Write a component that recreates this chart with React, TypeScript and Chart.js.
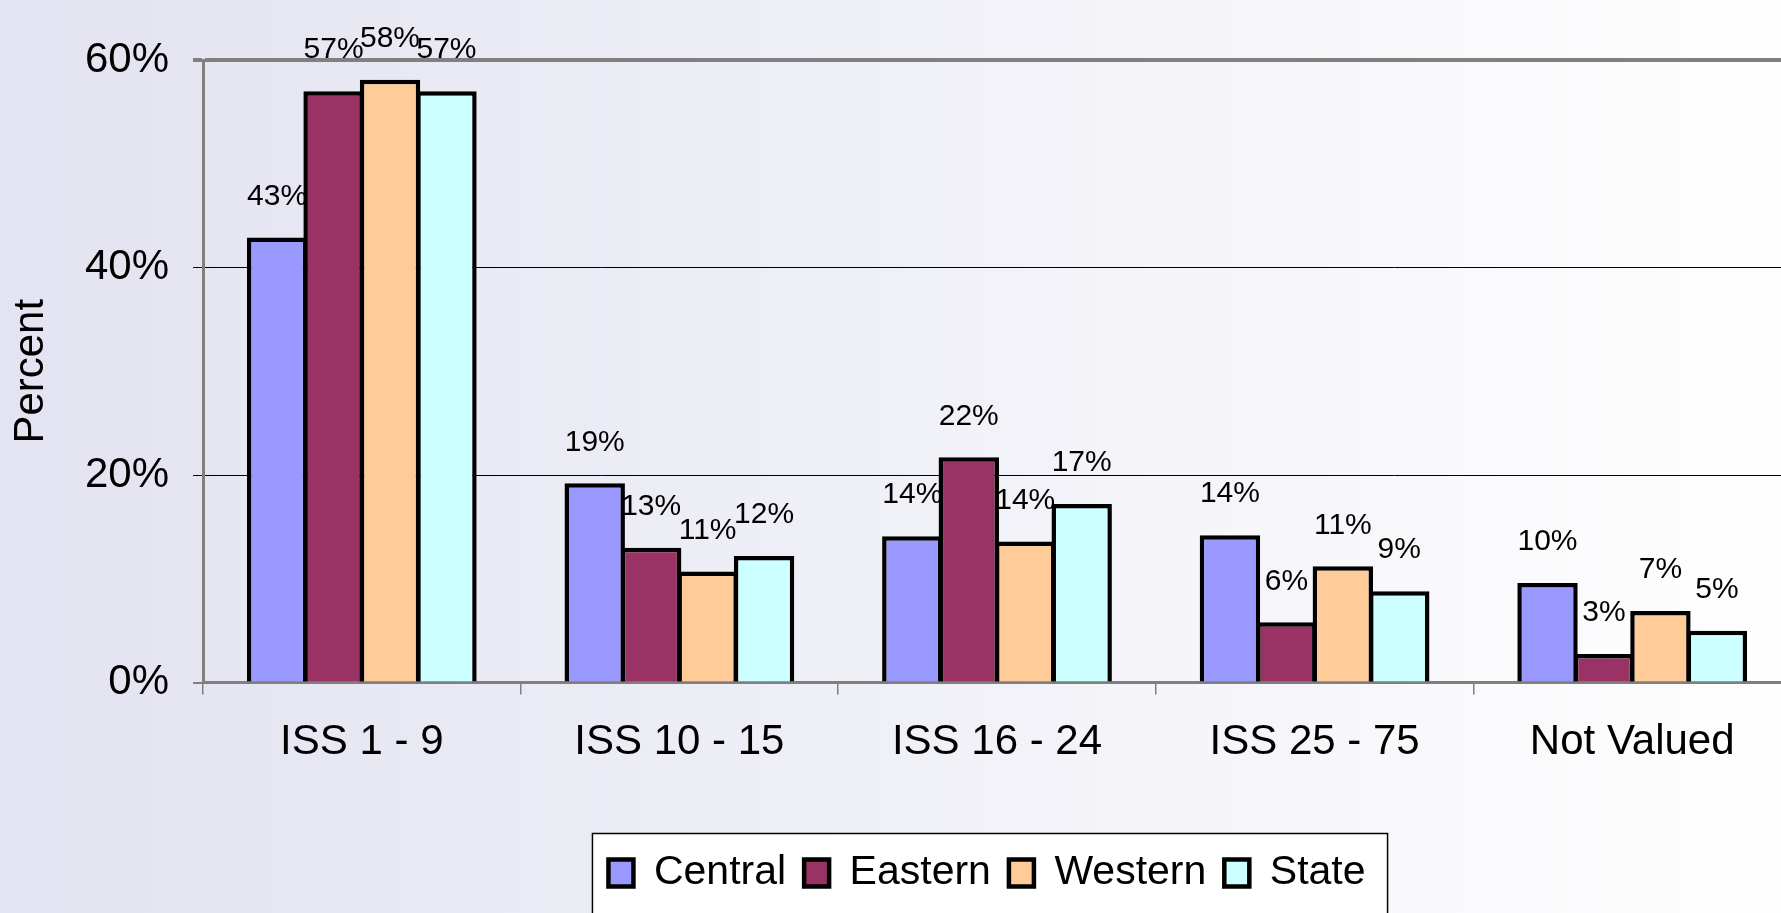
import React, { useEffect, useRef } from "react";
import { Chart, registerables } from "chart.js";

Chart.register(...registerables);

const categories = ["ISS 1 - 9", "ISS 10 - 15", "ISS 16 - 24", "ISS 25 - 75", "Not Valued"];
const seriesNames = ["Central", "Eastern", "Western", "State"];
const central = [42.9, 19.2, 14.1, 14.2, 9.6];
const eastern = [57.0, 13.0, 21.7, 5.8, 2.75];
const western = [58.1, 10.7, 13.6, 11.2, 6.9];
const stateVals = [57.0, 12.2, 17.2, 8.8, 5.0];
const yTicks = [0, 20, 40, 60];
const seriesColors = ["#9999FF", "#993366", "#FFCC99", "#CCFFFF"];

const FONT = "'Liberation Sans', Arial, Helvetica, sans-serif";

const backgroundPlugin = {
  id: "bgAndLegendFrame",
  afterLayout(chart: any) {
    const lg = chart.legend;
    if (lg) {
      lg.left -= 10;
      lg.right -= 10;
    }
  },
  beforeDraw(chart: any) {
    const { ctx, width, height } = chart;
    ctx.save();
    const g = ctx.createLinearGradient(0, 0, width, 0);
    g.addColorStop(0, "#E3E3F1");
    g.addColorStop(0.5, "#F0F0F7");
    g.addColorStop(1, "#FFFFFF");
    ctx.fillStyle = g;
    ctx.fillRect(0, 0, width, height);
    const lg = chart.legend;
    if (lg && lg.legendHitBoxes && lg.legendHitBoxes.length) {
      const hb = lg.legendHitBoxes;
      const first = hb[0];
      const last = hb[hb.length - 1];
      const left = first.left - 16;
      const right = last.left + last.width + 22;
      const top = lg.top - 1;
      ctx.fillStyle = "#FFFFFF";
      ctx.fillRect(left, top, right - left, height - top + 20);
      ctx.strokeStyle = "#000000";
      ctx.lineWidth = 1.5;
      ctx.strokeRect(left, top, right - left, height - top + 20);
    }
    ctx.restore();
  },
};

const dataLabelPlugin = {
  id: "dataLabels",
  afterDatasetsDraw(chart: any) {
    const { ctx } = chart;
    ctx.save();
    ctx.font = `30px ${FONT}`;
    ctx.fillStyle = "#000000";
    ctx.textAlign = "center";
    ctx.textBaseline = "middle";
    chart.data.datasets.forEach((ds: any, di: number) => {
      const meta = chart.getDatasetMeta(di);
      meta.data.forEach((el: any, i: number) => {
        const v = ds.data[i];
        ctx.fillText(`${Math.round(v)}%`, el.x, el.y - 41);
      });
    });
    ctx.restore();
  },
};

export default function App() {
  const canvasRef = useRef<HTMLCanvasElement | null>(null);

  useEffect(() => {
    document.body.style.margin = "0";
    const canvas = canvasRef.current;
    if (!canvas) return;
    const seriesData = [central, eastern, western, stateVals];
    const chart = new Chart(canvas, {
      type: "bar",
      data: {
        labels: categories,
        datasets: seriesNames.map((name, i) => ({
          label: name,
          data: seriesData[i],
          backgroundColor: seriesColors[i],
          borderColor: "#000000",
          borderWidth: 4.5,
          categoryPercentage: 0.711,
          barPercentage: 1.07,
        })),
      },
      options: {
        animation: false,
        responsive: true,
        maintainAspectRatio: false,
        events: [],
        layout: { padding: { top: 60, right: 9, bottom: 9.5, left: 0 } },
        font: { family: FONT },
        scales: {
          x: {
            grid: {
              display: true,
              drawOnChartArea: false,
              drawTicks: true,
              tickLength: 12,
              color: "#808080",
              lineWidth: 1.5,
              offset: true,
            },
            border: { display: true, color: "#808080", width: 2.5 },
            ticks: {
              color: "#000000",
              padding: 23,
              font: { family: FONT, size: 42 },
              maxRotation: 0,
              autoSkip: false,
            },
            afterFit: (s: any) => {
              s.height = 152;
            },
          },
          y: {
            min: 0,
            max: 60,
            afterBuildTicks: (s: any) => {
              s.ticks = yTicks.map((v) => ({ value: v }));
            },
            grid: {
              drawTicks: true,
              tickLength: 10,
              color: (c: any) => (c.tick && (c.tick.value === 60 || c.tick.value === 0) ? "#808080" : "#000000"),
              lineWidth: (c: any) => (c.tick && c.tick.value === 60 ? 4 : c.tick && c.tick.value === 0 ? 2 : 1),
            },
            border: { display: true, color: "#808080", width: 3 },
            ticks: {
              color: "#000000",
              padding: 24,
              font: { family: FONT, size: 42 },
              callback: (v: any) => `${v}%`,
            },
            title: {
              display: true,
              text: "Percent",
              color: "#000000",
              font: { family: FONT, size: 42 },
              padding: { top: 6, bottom: 0 },
            },
            afterFit: (s: any) => {
              s.width = 203;
            },
          },
        },
        plugins: {
          legend: {
            display: true,
            position: "bottom",
            fullSize: false,
            labels: {
              color: "#000000",
              font: { family: FONT, size: 41 },
              boxWidth: 25,
              boxHeight: 27,
              padding: 18,
            },
          },
          tooltip: { enabled: false },
          title: { display: false },
        },
      },
      plugins: [backgroundPlugin, dataLabelPlugin],
    } as any);
    return () => {
      chart.destroy();
    };
  }, []);

  return (
    <div style={{ width: 1781, height: 913, overflow: "hidden", position: "relative" }}>
      <div style={{ width: 1800, height: 913, position: "absolute", left: 0, top: 0 }}>
        <canvas ref={canvasRef} />
      </div>
    </div>
  );
}
